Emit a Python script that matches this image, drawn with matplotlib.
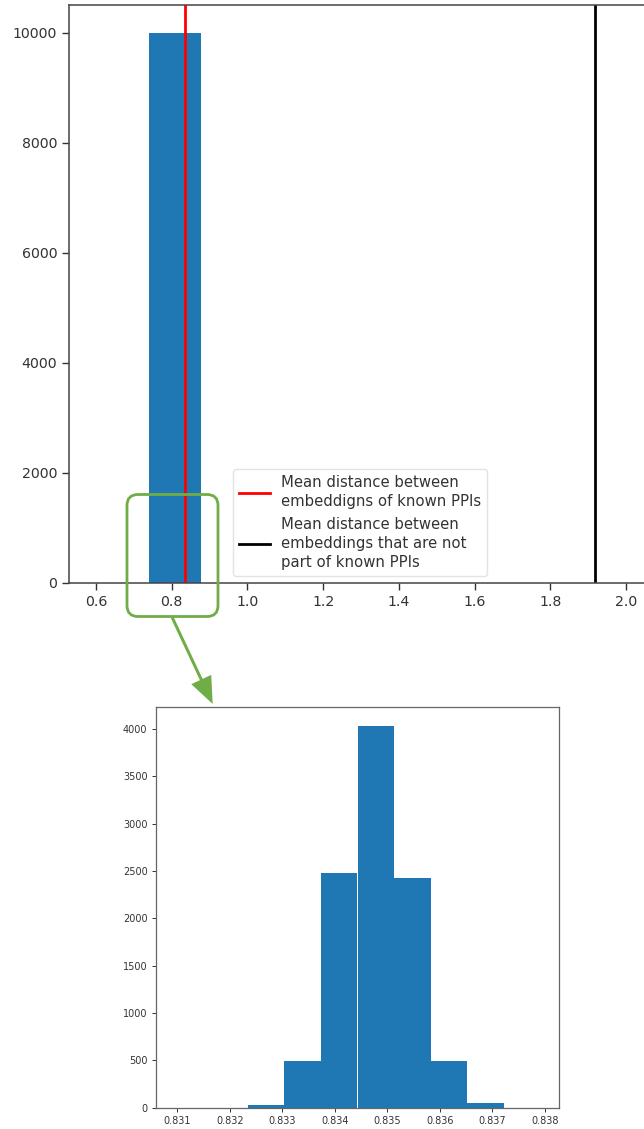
import numpy as np
import matplotlib
matplotlib.use("Agg")
import matplotlib.pyplot as plt
import matplotlib.transforms as mtransforms
from matplotlib.patches import FancyBboxPatch, FancyArrow

# Overview histogram: all 10000 distances fall in a single bin
overview_edges = [0.740, 0.877]
overview_counts = [10000]
mean_known = 0.835
mean_unknown = 1.917
overview_xticks = [0.6, 0.8, 1.0, 1.2, 1.4, 1.6, 1.8, 2.0]
overview_yticks = [0, 2000, 4000, 6000, 8000, 10000]

# Detail histogram of the same distances (10 bins)
detail_edges = [0.830942, 0.831640, 0.832337, 0.833035, 0.833732, 0.834430,
                0.835128, 0.835825, 0.836523, 0.837220, 0.837918]
detail_counts = [0, 0, 29, 495, 2478, 4036, 2425, 488, 49, 0]
detail_xticks = [0.831, 0.832, 0.833, 0.834, 0.835, 0.836, 0.837, 0.838]
detail_yticks = [0, 500, 1000, 1500, 2000, 2500, 3000, 3500, 4000]

legend_labels = ["Mean distance between\nembeddigns of known PPIs",
                 "Mean distance between\nembeddings that are not\npart of known PPIs"]

W, H = 644, 1129
fig = plt.figure(figsize=(W / 100, H / 100), dpi=100)
fig.patch.set_facecolor("white")


def frac(left, top, right, bottom):
    return [left / W, 1 - bottom / H, (right - left) / W, (bottom - top) / H]


# ---- overview axes ----
ax = fig.add_axes(frac(69, 5, 651, 583))
centers = [(overview_edges[i] + overview_edges[i + 1]) / 2 for i in range(len(overview_counts))]
ax.hist(centers, bins=overview_edges, weights=overview_counts, color="#1f77b4")
ax.axvline(mean_known, color="red", lw=2, label=legend_labels[0])
ax.axvline(mean_unknown, color="black", lw=2, label=legend_labels[1])
ax.set_xlim(0.5287, 2.066)
ax.set_xticks(overview_xticks)
ax.set_xticklabels([f"{t:.1f}" for t in overview_xticks])
ax.set_yticks(overview_yticks)
ax.tick_params(labelsize=10.2, length=5, width=1, colors="#333333")
for s in ax.spines.values():
    s.set_color("#444444")
    s.set_linewidth(1.1)
leg = ax.legend(loc="lower center", fontsize=10.7, frameon=True, labelcolor="#333333",
                handlelength=2.1, handletextpad=0.7, borderaxespad=0.5, labelspacing=0.6)
for t in leg.get_texts():
    t.set_linespacing(1.3)
leg.get_frame().set_edgecolor("#dddddd")

# ---- detail axes ----
ax2 = fig.add_axes(frac(156, 706.5, 559, 1107.5))
dcenters = [(detail_edges[i] + detail_edges[i + 1]) / 2 for i in range(len(detail_counts))]
ax2.hist(dcenters, bins=detail_edges, weights=detail_counts, color="#1f77b4")
ax2.set_xticks(detail_xticks)
ax2.set_xticklabels([f"{t:.3f}" for t in detail_xticks])
ax2.set_yticks(detail_yticks)
ax2.tick_params(labelsize=7.0, length=2.6, width=0.7, colors="#333333")
for s in ax2.spines.values():
    s.set_color("#666666")
    s.set_linewidth(0.9)

# ---- zoom marker: rounded box around the bar and arrow to the detail ----
pix = mtransforms.Affine2D().scale(1 / W, -1 / H).translate(0, 1) + fig.transFigure
green = "#70AD47"
box = FancyBboxPatch((127, 494.5), 91, 122, boxstyle="round,pad=0,rounding_size=11",
                     transform=pix, fill=False, edgecolor=green, lw=2, zorder=10)
fig.add_artist(box)
arrow = FancyArrow(172, 617, 212.7 - 172, 704 - 617, width=3, head_width=22,
                   head_length=27, length_includes_head=True, transform=pix,
                   color=green, lw=0, zorder=10)
fig.add_artist(arrow)

fig.savefig("out.png", dpi=100, facecolor="white")
